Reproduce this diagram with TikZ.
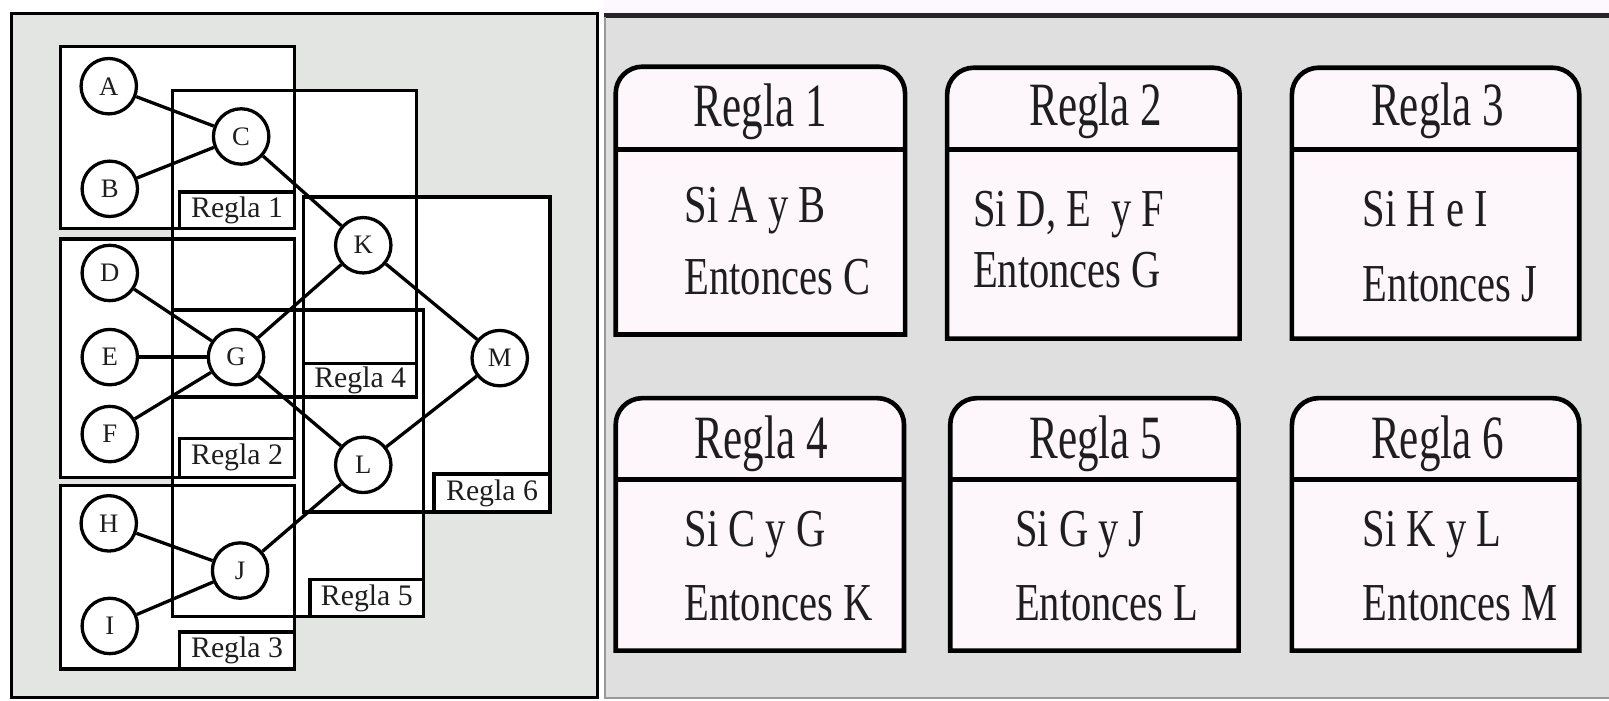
\documentclass[tikz,border=0pt]{standalone}
\usepackage{fontspec}
\setmainfont{Liberation Serif}
\newfontfamily\hdrfont[FakeStretch=0.70]{Liberation Serif}
\newfontfamily\bodyfont[FakeStretch=0.76]{Liberation Serif}
\definecolor{lpbg}{HTML}{E2E5E2}
\definecolor{rpbg}{HTML}{DFDFDF}
\definecolor{cardfill}{HTML}{FDF7FC}
\definecolor{strip}{HTML}{FDF8FD}
\definecolor{ink}{HTML}{1E1E1E}
\tikzset{
  rulebox/.style={draw=black, line width=3.2pt},
  rulefill/.style={fill=white},
  lbl/.style={draw=black, fill=white, line width=3.2pt, inner sep=0pt, font=\fontsize{29}{31}\selectfont, text=ink},
  fact/.style={circle, draw=black, fill=white, line width=3.2pt, minimum size=54pt, inner sep=0pt, font=\fontsize{26}{28}\selectfont, text=ink},
  link/.style={draw=black, line width=3.2pt},
  cardbox/.style={draw=black, fill=cardfill, line width=4.5pt},
  cardline/.style={draw=black, line width=5pt},
  hdr/.style={anchor=base, inner sep=0pt, text=ink, font=\hdrfont\fontsize{60}{62}\selectfont},
  bodytxt/.style={anchor=base west, inner sep=0pt, text=ink, font=\bodyfont\fontsize{52}{54}\selectfont}
}
\begin{document}
\begin{tikzpicture}[x=1pt,y=-1pt]
\useasboundingbox (0,0) rectangle (1568,683);
\fill[white] (0,0) rectangle (1568,683);
% ---------- left panel ----------
\draw[line width=3pt, fill=lpbg] (11,13) rectangle (582,680);
% box fills
\foreach \a/\b in {{59,45}/{287,223},{59,233}/{287,465},{59,473}/{287,652},{168,88}/{406,387},{168,302}/{413,601},{296,192}/{536,499}}
  \fill[rulefill] (\a) rectangle (\b);
% box outlines
\foreach \a/\b in {{59,45}/{287,223},{59,233}/{287,465},{59,473}/{287,652},{168,88}/{406,387},{168,302}/{413,601},{296,192}/{536,499}}
  \draw[rulebox] (\a) rectangle (\b);
% label boxes
\node[lbl, minimum width=112pt, minimum height=36pt] (l1) at (231,205) {Regla 1};
\node[lbl, minimum width=112pt, minimum height=38pt] (l2) at (231,446) {Regla 2};
\node[lbl, minimum width=112pt, minimum height=36pt] (l3) at (231,634) {Regla 3};
\node[lbl, minimum width=110pt, minimum height=33pt] (l4) at (351,370.5) {Regla 4};
\node[lbl, minimum width=111pt, minimum height=36pt] (l5) at (357.5,583) {Regla 5};
\node[lbl, minimum width=113pt, minimum height=37pt] (l6) at (479.5,480.5) {Regla 6};
% facts
\node[fact] (A) at (106,84) {A};
\node[fact] (B) at (107,184) {B};
\node[fact] (C) at (235,133) {C};
\node[fact] (D) at (107,266) {D};
\node[fact] (E) at (107,348) {E};
\node[fact] (F) at (107,423) {F};
\node[fact] (G) at (230,348) {G};
\node[fact] (H) at (106,510) {H};
\node[fact] (I) at (107,610) {I};
\node[fact] (J) at (234,556) {J};
\node[fact] (K) at (354,239) {K};
\node[fact] (L) at (354,453) {L};
\node[fact] (M) at (487,349) {M};
% links
\foreach \u/\v in {A/C,B/C,C/K,D/G,E/G,F/G,G/K,G/L,K/M,L/M,H/J,I/J,J/L}
  \draw[link] (\u) -- (\v);
% ---------- right panel ----------
\fill[rpbg] (589,15) rectangle (1568,680);
\fill[strip] (589,0) rectangle (1568,13);
\draw[line width=5pt, black!85] (589,15) -- (1568,15);
\draw[line width=1.2pt, black!40] (589.6,17) -- (589.6,680);
\draw[line width=1.5pt, black!40] (589,680) -- (1568,680);
% cards
\foreach \xa/\xb/\ya/\yb/\yh in {600/882/65/326/146, 923/1208/66/330/146, 1259/1539/66/330/146, 600/881/388/634/467, 926/1207/388/634/467, 1259/1539/388/634/467}{
  \draw[cardbox] (\xa,\yb) [rounded corners=26pt] -- (\xa,\ya) -- (\xb,\ya) [sharp corners] -- (\xb,\yb) -- cycle;
  \draw[cardline] (\xa,\yh) -- (\xb,\yh);
}
\node[hdr] (h1) at (741,123) {Regla 1};
\node[hdr] (h2) at (1068,122) {Regla 2};
\node[hdr] (h3) at (1401,122) {Regla 3};
\node[hdr] (h4) at (742,447) {Regla 4};
\node[hdr] (h5) at (1068,447) {Regla 5};
\node[hdr] (h6) at (1401,447) {Regla 6};
\node[bodytxt] (s1) at (667,217) {Si A y B};
\node[bodytxt] (e1) at (667,287) {Entonces C};
\node[bodytxt] (s2) at (948,221) {Si D, E\ \ y F};
\node[bodytxt] (e2) at (948,280) {Entonces G};
\node[bodytxt] (s3) at (1328,221) {Si H e I};
\node[bodytxt] (e3) at (1328,294) {Entonces J};
\node[bodytxt] (s4) at (667,533) {Si C y G};
\node[bodytxt] (e4) at (667,605) {Entonces K};
\node[bodytxt] (s5) at (989,533) {Si G y J};
\node[bodytxt] (e5) at (989,605) {Entonces L};
\node[bodytxt] (s6) at (1328,533) {Si K y L};
\node[bodytxt] (e6) at (1328,605) {Entonces M};
\end{tikzpicture}
\end{document}
